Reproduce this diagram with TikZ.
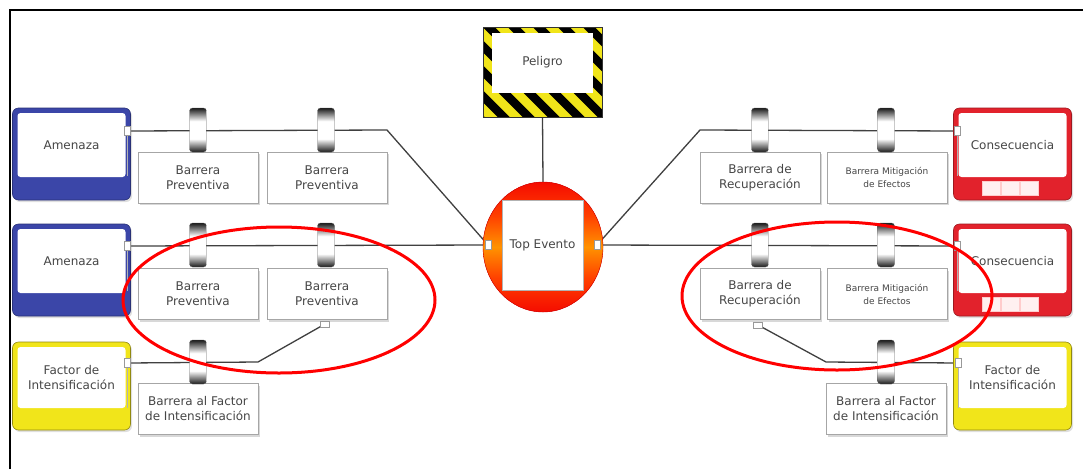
\documentclass[tikz,border=0pt]{standalone}
\usepackage{fontspec}
\setmainfont{DejaVu Sans}
\usetikzlibrary{shapes.geometric,shadows,calc}
\definecolor{tblue}{HTML}{3B46A8}
\definecolor{cred}{HTML}{E2222C}
\definecolor{fyel}{HTML}{F1E51A}
\definecolor{txt}{HTML}{464646}
\definecolor{ln}{HTML}{404040}
\pgfdeclareverticalshading{ringsh}{100bp}{color(0bp)=(black!90); color(25bp)=(black!90); color(40bp)=(white); color(60bp)=(white); color(75bp)=(black!90); color(100bp)=(black!90)}
\pgfdeclareverticalshading{sidesh}{100bp}{color(0bp)=(red!95!black); color(22bp)=(red!95!black); color(38bp)=(red!50!orange); color(50bp)=(orange!85!yellow); color(62bp)=(red!50!orange); color(78bp)=(red!95!black); color(100bp)=(red!95!black)}
\pgfdeclarelayer{paper}
\pgfdeclarelayer{bg}
\pgfsetlayers{paper,bg,main}
\begin{document}
\begin{tikzpicture}[x=1pt,y=-1pt, font=\fontsize{12}{15}\selectfont, text=txt,
 bar/.style={rectangle, draw=gray!70, fill=white, minimum width=120pt, minimum height=51pt, align=center, inner sep=1pt, drop shadow={shadow xshift=1.5pt, shadow yshift=-2pt, opacity=0.3}},
 ring/.style={rectangle, rounded corners=3pt, minimum width=17pt, minimum height=44pt, inner sep=0pt, shading=ringsh, draw=black!60, line width=0.3pt},
 conn/.style={rectangle, draw=gray!80, fill=white, minimum width=6pt, minimum height=9pt, inner sep=0pt, line width=0.5pt},
 link/.style={draw=ln, line width=1.3pt},
 inner/.style={draw=gray!60, line width=0.5pt},
 evt/.style 2 args={rectangle, rounded corners=6pt, minimum width=118pt, minimum height=92pt, inner sep=0pt, fill=#1, draw=#1!70!black, line width=0.6pt, drop shadow={shadow xshift=1.5pt, shadow yshift=-2pt, opacity=0.25}, path picture={\fill[white, rounded corners=3pt] ([xshift=5pt,yshift=-5pt]path picture bounding box.north west) rectangle ([xshift=-5pt,yshift=#2]path picture bounding box.south east);}},
 hl/.style={ellipse, draw=red, line width=3pt, inner sep=0pt}
]
\useasboundingbox (0,0) rectangle (1083,469);
\begin{pgfonlayer}{paper}
\fill[white] (0,0) rectangle (1083,469);
\end{pgfonlayer}
\draw[line width=2pt] (10,469) -- (10,10) -- (1083,10);

% ---- Peligro
\node[rectangle, minimum width=119pt, minimum height=90pt, inner sep=0pt, fill=fyel, draw=black!80, line width=0.5pt,
  path picture={
    \foreach \k in {-8,...,8} {
      \fill[black] ([xshift=\k*25pt, yshift=40pt]path picture bounding box.north) -- ++(12pt,0pt) -- ++(140pt,-140pt) -- ++(-12pt,0pt) -- cycle;
    }
    \fill[white] ([xshift=9pt,yshift=-6pt]path picture bounding box.north west) rectangle ([xshift=-9pt,yshift=24pt]path picture bounding box.south east);
  },
  label={[yshift=10pt]center:Peligro}] (pel) at (542.5,72) {};

% ---- Top Evento
\node[ellipse, minimum width=120pt, minimum height=130pt, inner sep=0pt, fill=red!95!black, draw=red!80!black, line width=0.4pt,
  path picture={
    \shade[shading=sidesh] (path picture bounding box.north west) rectangle (path picture bounding box.south east);
  }] (te) at (543,247) {};
\node[rectangle, draw=gray!60, fill=white, minimum width=81pt, minimum height=90pt, inner sep=0pt] (tebox) at (542.5,245) {Top Evento};
\node[conn] (tel) at (488,245) {};
\node[conn] (ter) at (597,245) {};

% ---- Left event boxes
\node[evt={tblue}{23pt}, label={[yshift=9pt]center:Amenaza}] (a1) at (71.5,154) {};
\node[evt={tblue}{23pt}, label={[yshift=9pt]center:Amenaza}] (a2) at (71.5,270) {};
\node[evt={fyel}{22pt}, minimum height=88pt, draw=fyel!60!black, label={[yshift=8pt,align=center]center:Factor de\\Intensificación}] (f1) at (71.5,386) {};

% ---- Right event boxes
\node[evt={cred}{23pt}, label={[yshift=9pt]center:Consecuencia}] (c1) at (1012.5,154) {};
\node[evt={cred}{23pt}, label={[yshift=9pt]center:Consecuencia}] (c2) at (1012.5,270) {};
\node[evt={fyel}{22pt}, minimum height=88pt, draw=fyel!60!black, label={[yshift=8pt,align=center]center:Factor de\\Intensificación}] (f2) at (1012.5,386) {};
\foreach \n in {c1,c2}{
  \foreach \i in {0,1,2}{
    \fill[red!6, draw=red!20] ($(\n.south)+(-30.5+\i*19,-5)$) rectangle ++(18,-14);
  }
}

% ---- Connector squares
\node[conn] (a1c) at (127,131) {};
\node[conn] (a2c) at (127,246) {};
\node[conn] (f1c) at (127,363) {};
\node[conn] (c1c) at (957,131) {};
\node[conn] (c2c) at (957,246) {};
\node[conn] (f2c) at (958,363) {};
\foreach \n in {a1c,a2c,f1c,c1c,c2c,f2c}{
  \draw[inner] (\n.south) -- ++(0,40);
}

% ---- Barrier boxes (left)
\node[bar] (b11) at (198,177.5) {Barrera\\Preventiva};
\node[bar] (b12) at (327,177.5) {Barrera\\Preventiva};
\node[bar] (b21) at (198,294) {Barrera\\Preventiva};
\node[bar] (b22) at (327,294) {Barrera\\Preventiva};
\node[bar] (bf1) at (198,409) {Barrera al Factor\\de Intensificación};

% ---- Barrier boxes (right)
\node[bar] (r11) at (760,177.5) {Barrera de\\Recuperación};
\node[bar, font=\fontsize{9}{13}\selectfont] (r12) at (887,177.5) {Barrera Mitigación\\de Efectos};
\node[bar] (r21) at (760,294) {Barrera de\\Recuperación};
\node[bar, font=\fontsize{9}{13}\selectfont] (r22) at (887,294) {Barrera Mitigación\\de Efectos};
\node[bar] (bf2) at (886,409) {Barrera al Factor\\de Intensificación};

\node[conn, minimum width=9pt, minimum height=6pt] (b22c) at (325,324) {};
\node[conn, minimum width=9pt, minimum height=6pt] (r21c) at (758,325) {};

% ---- Corner coordinates
\coordinate (kL1) at (387,130);
\coordinate (kR1) at (700,130);
\coordinate (kF1) at (258,362);
\coordinate (kF2) at (826,362);

% ---- Links
\begin{pgfonlayer}{bg}
\draw[link] (a1c.center) -- (kL1) -- (tel.center);
\draw[link] (a2c.center) -- (tel.center);
\draw[link] (f1c.center) -- (kF1) -- (b22c.center);
\draw[link] (ter.center) -- (kR1) -- (c1c.center);
\draw[link] (ter.center) -- (c2c.center);
\draw[link] (f2c.center) -- (kF2) -- (r21c.center);
\draw[link] (pel.south) -- (te.north);
\end{pgfonlayer}

% ---- Barrier rings
\node[ring] (g11) at (198,130) {};
\node[ring] (g12) at (326,130) {};
\node[ring] (g21) at (198,245) {};
\node[ring] (g22) at (326,245) {};
\node[ring] (gf1) at (198,362) {};
\node[ring] (h11) at (760,130) {};
\node[ring] (h12) at (886,130) {};
\node[ring] (h21) at (760,245) {};
\node[ring] (h22) at (886,245) {};
\node[ring] (hf2) at (886,362) {};

% ---- Highlight ellipses
\node[hl, minimum width=312pt, minimum height=146pt] (hlL) at (279,300) {};
\node[hl, minimum width=310pt, minimum height=148pt] (hlR) at (837,296) {};
\end{tikzpicture}
\end{document}
